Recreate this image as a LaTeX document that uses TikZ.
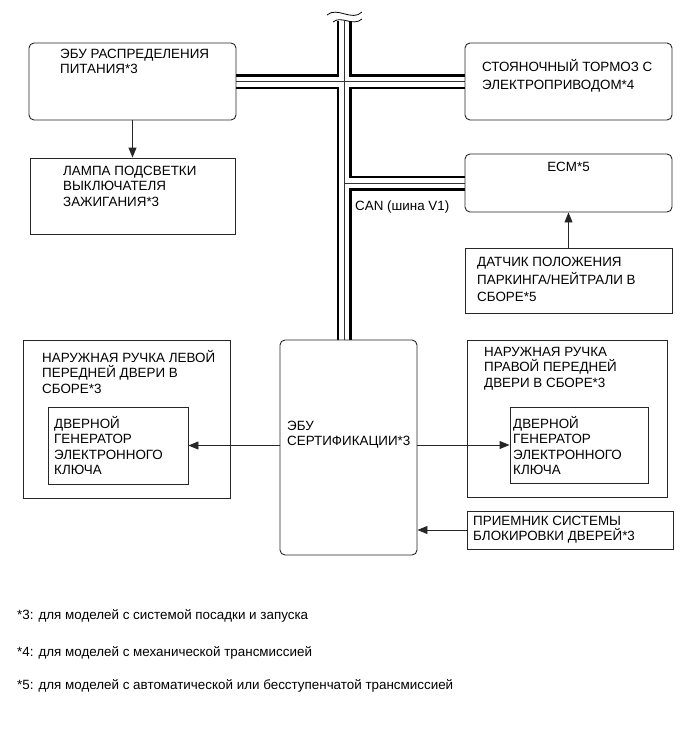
\documentclass[tikz,border=0pt]{standalone}
\usepackage{fontspec}
\setmainfont{Liberation Sans}
\usetikzlibrary{arrows.meta, positioning, backgrounds}
\newcommand{\diagfont}{\fontsize{13.4}{15.4}\selectfont}
\newcommand{\notefont}{\fontsize{13.4}{15.4}\selectfont}
\tikzset{
  roundbox/.style={rectangle, rounded corners=5pt, draw=black!85, line width=0.9pt, inner sep=0pt},
  plainbox/.style={rectangle, draw=black!85, line width=0.9pt, inner sep=0pt},
  lbl/.style={anchor=north west, inner sep=0pt, align=left, font=\diagfont,
              execute at begin node={\rule{0pt}{12pt}}},
  note/.style={anchor=north west, inner sep=0pt, font=\notefont,
               execute at begin node={\rule{0pt}{12pt}}},
}
\begin{document}
\begin{tikzpicture}[x=1pt, y=-1pt,
    arr/.style={-{Triangle[length=10pt, width=8pt]}, line width=0.9pt, black!85},
    busline/.style={line width=#1, line cap=butt}
  ]
  \useasboundingbox (0,0) rectangle (689,756);
  % boxes
  \node[roundbox, minimum width=207, minimum height=77] (pdu) at (132.5,81.5) {};
  \node[plainbox, minimum width=205, minimum height=76] (lamp) at (132.5,196) {};
  \node[roundbox, minimum width=207, minimum height=77] (epb) at (568.5,81.5) {};
  \node[roundbox, minimum width=207, minimum height=58] (ecm) at (568.5,183) {};
  \node[plainbox, minimum width=207, minimum height=65] (sensor) at (568.5,280.5) {};
  \node[plainbox, minimum width=207, minimum height=158] (lhandle) at (126.5,419) {};
  \node[plainbox, minimum width=140, minimum height=77] (linner) at (118,445.5) {};
  \node[roundbox, minimum width=137, minimum height=215] (cert) at (348.5,447.5) {};
  \node[plainbox, minimum width=200, minimum height=157] (rhandle) at (567,418.5) {};
  \node[plainbox, minimum width=138, minimum height=76] (rinner) at (579,445) {};
  \node[plainbox, minimum width=206, minimum height=38] (recv) at (570,530) {};
  % texts
  \node[lbl] (pdutxt) at (60,49) {ЭБУ РАСПРЕДЕЛЕНИЯ\\ПИТАНИЯ*3};
  \node[lbl] (lamptxt) at (63,166) {ЛАМПА ПОДСВЕТКИ\\ВЫКЛЮЧАТЕЛЯ\\ЗАЖИГАНИЯ*3};
  \node[lbl, font={\fontsize{13.4}{18}\selectfont}] (epbtxt) at (482,59)
    {СТОЯНОЧНЫЙ ТОРМОЗ С\\ЭЛЕКТРОПРИВОДОМ*4};
  \node[lbl, anchor=north] (ecmtxt) at (568.5,159) {ECM*5};
  \node[lbl, font={\fontsize{13.4}{17.5}\selectfont}] (sensortxt) at (477,257)
    {ДАТЧИК ПОЛОЖЕНИЯ\\ПАРКИНГА/НЕЙТРАЛИ В\\СБОРЕ*5};
  \node[lbl] (canlbl) at (355,198) {CAN (шина V1)};
  \node[lbl] (lhtxt) at (42,350) {НАРУЖНАЯ РУЧКА ЛЕВОЙ\\ПЕРЕДНЕЙ ДВЕРИ В\\СБОРЕ*3};
  \node[lbl] (litxt) at (54,416) {ДВЕРНОЙ\\ГЕНЕРАТОР\\ЭЛЕКТРОННОГО\\КЛЮЧА};
  \node[lbl] (certtxt) at (287,421) {ЭБУ\\СЕРТИФИКАЦИИ*3};
  \node[lbl] (rhtxt) at (484,347) {НАРУЖНАЯ РУЧКА\\ПРАВОЙ ПЕРЕДНЕЙ\\ДВЕРИ В СБОРЕ*3};
  \node[lbl] (ritxt) at (513,416) {ДВЕРНОЙ\\ГЕНЕРАТОР\\ЭЛЕКТРОННОГО\\КЛЮЧА};
  \node[lbl] (recvtxt) at (473,516) {ПРИЕМНИК СИСТЕМЫ\\БЛОКИРОВКИ ДВЕРЕЙ*3};
  \node[note] (n3) at (17,607) {*3: для моделей с системой посадки и запуска};
  \node[note] (n4) at (17,644) {*4: для моделей с механической трансмиссией};
  \node[note] (n5) at (17,677) {*5: для моделей с автоматической или бесступенчатой трансмиссией};
  % CAN bus
  \coordinate (bustop) at (344,21);
  \begin{scope}[on background layer]
    \foreach \w/\c in {15pt/black, 10pt/white, 1pt/black!80}
      \draw[busline=\w, \c] (bustop) -- (bustop |- cert.north)
        (pdu.east) -- (epb.west)
        (bustop |- ecm.west) -- (ecm.west);
  \end{scope}
  \draw[line width=0.8pt] (327,15) .. controls (337,6) and (352,22) .. (362,12);
  \draw[line width=0.8pt] (333,22) .. controls (341,15) and (353,27) .. (362,19);
  % arrows
  \draw[arr] (pdu) -- (lamp);
  \draw[arr] (sensor) -- (ecm);
  \draw[arr] (linner.east -| cert.west) -- (linner.east);
  \draw[arr] (rinner.west -| cert.east) -- (rinner.west);
  \draw[arr] (recv.west) -- (recv.west -| cert.east);
\end{tikzpicture}
\end{document}
